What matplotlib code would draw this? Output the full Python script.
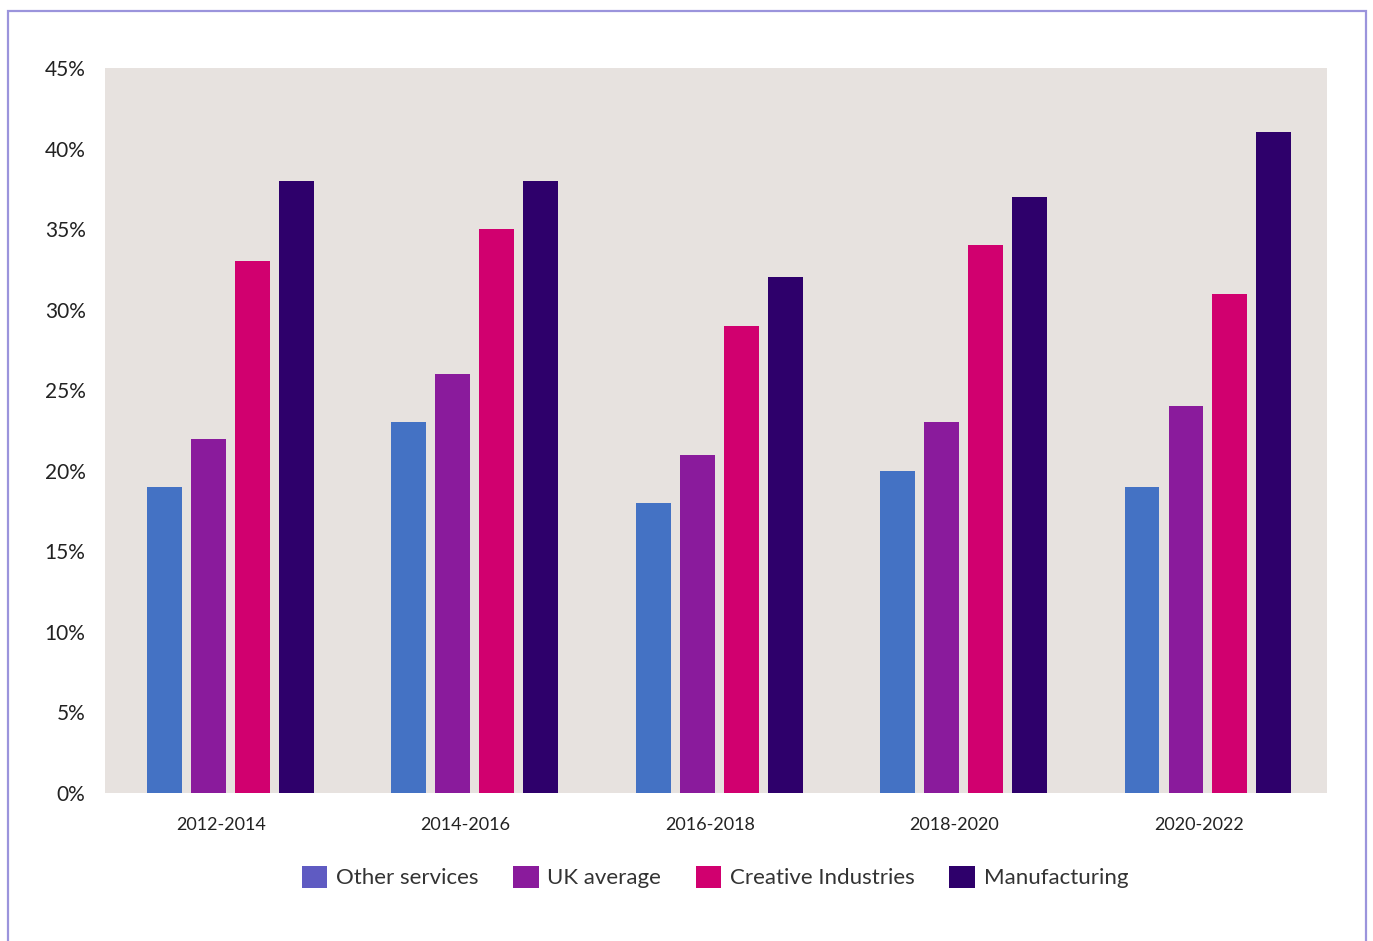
import numpy as np
import matplotlib
matplotlib.use("Agg")
from matplotlib import pyplot as plt
from matplotlib.patches import Rectangle, Patch

plt.rcParams['font.family'] = ['Lato', 'DejaVu Sans']

periods = ['2012-2014', '2014-2016', '2016-2018', '2018-2020', '2020-2022']
series = ['Other services', 'UK average', 'Creative Industries', 'Manufacturing']
other_services = [19, 23, 18, 20, 19]
uk_average = [22, 26, 21, 23, 24]
creative_industries = [33, 35, 29, 34, 31]
manufacturing = [38, 38, 32, 37, 41]

bar_colors = ['#4472C4', '#8A1B9C', '#D1006F', '#2E006B']
legend_colors = ['#5F5BC2', '#8A1B9C', '#D1006F', '#2E006B']

fig = plt.figure(figsize=(13.73, 9.41), dpi=100)
ax = fig.add_axes([105/1373, 1 - 793/941, 1222/1373, 725/941])
ax.set_facecolor('#E7E2DF')

x = np.arange(len(periods))
width = 0.143
step = 0.18
for i, (vals, c) in enumerate(zip([other_services, uk_average, creative_industries, manufacturing], bar_colors)):
    ax.bar(x + (i - 1.5) * step + 0.013, vals, width, color=c, zorder=2)

ax.set_xlim(-0.5, 4.5)
ax.set_ylim(0, 45)
ax.set_yticks(range(0, 46, 5))
ax.set_yticklabels([f'{v}%' for v in range(0, 46, 5)])
ax.set_xticks(x - 0.025)
ax.set_xticklabels(periods)
ax.tick_params(axis='y', length=0, pad=14, labelsize=15, labelcolor='#222222')
ax.tick_params(axis='x', length=0, pad=17, labelsize=13, labelcolor='#222222')
for s in ax.spines.values():
    s.set_visible(False)

handles = [Patch(facecolor=c, label=l) for c, l in zip(legend_colors, series)]
fig.legend(handles=handles, loc='center', bbox_to_anchor=(715/1373, 1 - 877/941),
           ncol=4, frameon=False, fontsize=16, labelcolor='#333333',
           handlelength=1.15, handleheight=1.15, handletextpad=0.4, columnspacing=1.55)

# thin lilac frame around the figure
fig.patches.append(Rectangle((8/1373, -0.02), 1358/1373, 1.02 - 11/941, transform=fig.transFigure,
                             fill=False, edgecolor='#9B94DC', linewidth=1.6))

fig.savefig('out.png', dpi=100)
